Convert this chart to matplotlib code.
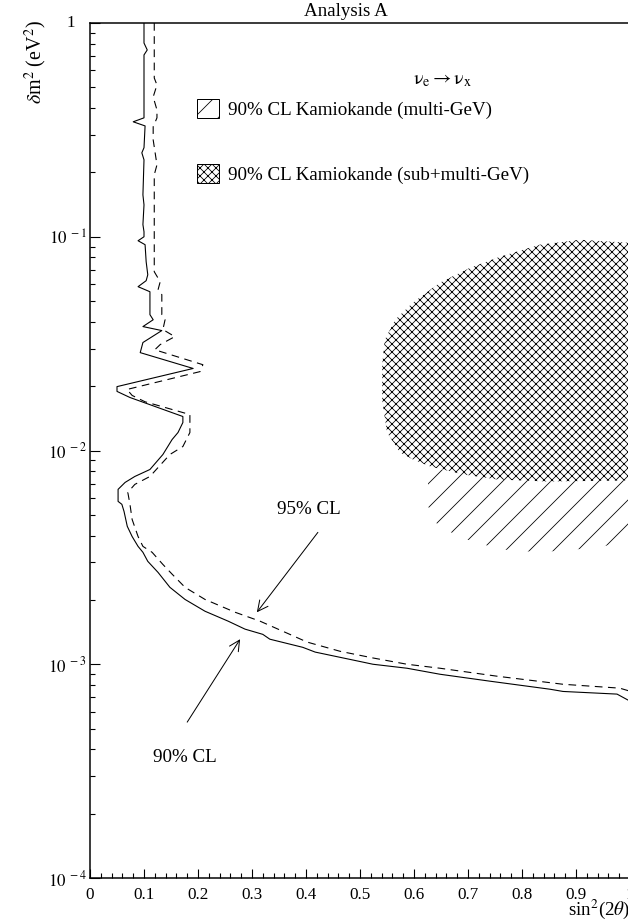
import numpy as np
import matplotlib
matplotlib.use("Agg")
import matplotlib.pyplot as plt
from matplotlib.patches import Patch
from matplotlib.ticker import FixedLocator, FuncFormatter

plt.rcParams['font.family'] = 'serif'
plt.rcParams['font.serif'] = ['Liberation Serif', 'DejaVu Serif']
plt.rcParams['mathtext.fontset'] = 'stix'
plt.rcParams['hatch.color'] = 'black'
plt.rcParams['hatch.linewidth'] = 0.8

# 90% CL contour (solid)
cl90_x = [0.100, 0.100, 0.106, 0.100, 0.100, 0.080, 0.102, 0.100, 0.096, 0.100,
          0.098, 0.100, 0.098, 0.100, 0.100, 0.089, 0.102, 0.104, 0.107, 0.104,
          0.089, 0.111, 0.111, 0.117, 0.098, 0.133, 0.098, 0.093, 0.191, 0.050,
          0.050, 0.074, 0.172, 0.172, 0.163, 0.152, 0.135, 0.111, 0.083, 0.065,
          0.052, 0.052, 0.059, 0.063, 0.069, 0.078, 0.089, 0.098, 0.107, 0.126,
          0.148, 0.176, 0.213, 0.256, 0.287, 0.320, 0.333, 0.394, 0.417, 0.500,
          0.524, 0.587, 0.648, 0.741, 0.852, 0.876, 0.976, 1.000]
cl90_y = [1.0, 0.806, 0.748, 0.709, 0.360, 0.345, 0.330, 0.261, 0.247, 0.229,
          0.157, 0.141, 0.114, 0.1055, 0.100, 0.0958, 0.0918, 0.0764, 0.0664, 0.0623,
          0.0584, 0.0553, 0.0432, 0.0409, 0.0380, 0.0364, 0.0320, 0.0287, 0.0242, 0.0199,
          0.0189, 0.0177, 0.01442, 0.01352, 0.01214, 0.01125, 0.00958, 0.00815, 0.00756, 0.00709,
          0.00658, 0.00578, 0.00560, 0.00519, 0.00442, 0.00396, 0.00356, 0.00334, 0.00303, 0.00269,
          0.00229, 0.00201, 0.00177, 0.00159, 0.00146, 0.00138, 0.00131, 0.00120, 0.00114, 0.00103,
          0.00100, 0.000958, 0.000898, 0.000833, 0.000764, 0.000746, 0.000725, 0.000672]

# 95% CL contour (dashed)
cl95_x = [0.119, 0.119, 0.124, 0.117, 0.124, 0.124, 0.117, 0.117, 0.124, 0.119,
          0.119, 0.130, 0.126, 0.133, 0.133, 0.139, 0.135, 0.157, 0.130, 0.120,
          0.209, 0.204, 0.0685, 0.078, 0.102, 0.185, 0.185, 0.172, 0.148, 0.111,
          0.083, 0.070, 0.074, 0.078, 0.089, 0.098, 0.115, 0.135, 0.152, 0.176,
          0.213, 0.269, 0.315, 0.370, 0.402, 0.463, 0.524, 0.587, 0.648, 0.754,
          0.876, 0.981, 1.000]
cl95_y = [1.0, 0.553, 0.513, 0.451, 0.392, 0.360, 0.327, 0.284, 0.217, 0.195,
          0.0686, 0.0616, 0.0565, 0.0536, 0.0432, 0.0409, 0.0368, 0.0341, 0.0313, 0.0296,
          0.0252, 0.0234, 0.0193, 0.0181, 0.0169, 0.01473, 0.01214, 0.01044, 0.00958, 0.00756,
          0.00694, 0.00637, 0.00560, 0.00476, 0.00396, 0.00356, 0.00334, 0.00293, 0.00264, 0.00229,
          0.00201, 0.00175, 0.00159, 0.00138, 0.00127, 0.00115, 0.00107, 0.00100, 0.000958, 0.000879,
          0.000806, 0.000773, 0.000748]

# Kamiokande allowed regions
multi_x = [0.626, 0.626, 0.643, 0.685, 0.759, 0.833, 0.944, 1.0, 1.0]
multi_y = [0.00815, 0.00548, 0.00451, 0.00392, 0.00345, 0.00334, 0.00352, 0.00384, 0.00815]
sub_x = [0.541, 0.546, 0.565, 0.598, 0.648, 0.704, 0.759, 0.833, 0.907, 1.0,
         1.0, 0.846, 0.754, 0.691, 0.630, 0.598, 0.574, 0.550, 0.541]
sub_y = [0.0252, 0.0330, 0.0409, 0.0492, 0.0610, 0.0716, 0.0806, 0.0918, 0.0968, 0.0937,
         0.00724, 0.00716, 0.00732, 0.00773, 0.00842, 0.00908, 0.00979, 0.01214, 0.0173]

xticks = [0, 0.1, 0.2, 0.3, 0.4, 0.5, 0.6, 0.7, 0.8, 0.9, 1.0]
yticks = [1e-4, 1e-3, 1e-2, 1e-1, 1]

fig = plt.figure(figsize=(628/72, 921/72), dpi=72)
ax = fig.add_axes([90/628, 1-878/921, 540/628, 855/921])
ax.set_yscale('log')
ax.set_xlim(0, 1)
ax.set_ylim(1e-4, 1)

# regions
ax.fill(multi_x, multi_y, facecolor='white', edgecolor='black', lw=0, hatch='/', zorder=1)
ax.fill(sub_x, sub_y, facecolor='white', edgecolor='black', lw=0, hatch='xxx', zorder=2)

# contours
ax.plot(cl90_x, cl90_y, color='black', lw=1.1, zorder=3)
ax.plot(cl95_x, cl95_y, color='black', lw=1.1, dashes=(7, 5), zorder=3)

# labels with arrows
arw = dict(arrowstyle='->', color='black', lw=1.0, mutation_scale=26, shrinkA=0, shrinkB=0)
ax.annotate('', xy=(0.309, 0.00175), xytext=(0.422, 0.00414), arrowprops=arw)
ax.annotate('', xy=(0.278, 0.00131), xytext=(0.180, 0.000536), arrowprops=arw)
ax.text(0.346, 0.0053, '95% CL', fontsize=19, ha='left', va='center')
ax.text(0.117, 0.000367, '90% CL', fontsize=19, ha='left', va='center')

ax.text(0.652, 0.933, r'$\mathrm{\nu_e \rightarrow \nu_x}$', fontsize=20, ha='center', va='center',
        transform=ax.transAxes)

handles = [Patch(facecolor='white', edgecolor='black', hatch='/', lw=1.0,
                 label='90% CL Kamiokande (multi-GeV)'),
           Patch(facecolor='white', edgecolor='black', hatch='xxx', lw=1.0,
                 label='90% CL Kamiokande (sub+multi-GeV)')]
ax.legend(handles=handles, loc='upper left', bbox_to_anchor=(0.198, 0.911),
          frameon=False, fontsize=19, handlelength=1.15, handleheight=1.15,
          handletextpad=0.5, labelspacing=2.35, borderpad=0, borderaxespad=0)

ax.text(0.474, 1.004, 'Analysis A', fontsize=19, ha='center', va='bottom',
        transform=ax.transAxes)
ax.text(1.0, -0.043, r'sin$^2$(2$\theta$)', fontsize=19, ha='right', va='baseline',
        transform=ax.transAxes)
ax.text(-0.1, 0.954, r'$\delta$m$^2$ (eV$^2$)', fontsize=20, rotation=90,
        ha='center', va='center', transform=ax.transAxes)

# ticks
ax.xaxis.set_major_locator(FixedLocator(xticks))
ax.xaxis.set_minor_locator(FixedLocator(np.arange(0, 1.001, 0.02)))
ax.xaxis.set_major_formatter(FuncFormatter(lambda v, p: '0' if v == 0 else ('1' if v == 1 else '%.1f' % v)))
ax.yaxis.set_major_locator(FixedLocator(yticks))
ax.yaxis.set_major_formatter(FuncFormatter(
    lambda v, p: '' if v == 1 else r'$10^{\,\,-%d}$' % round(-np.log10(v))))
# the "1" label sits where the "10" of the other labels sits
ax.text(-0.028, 1, '1', fontsize=17, ha='right', va='center', transform=ax.get_yaxis_transform())
ax.tick_params(which='both', direction='in', top=False, right=False, labelsize=17, width=1.1)
ax.tick_params(axis='y', which='major', length=10, pad=3)
ax.tick_params(axis='y', which='minor', length=5)
ax.tick_params(axis='x', which='major', length=9, pad=9)
ax.tick_params(axis='x', which='minor', length=5)
for s in ax.spines.values():
    s.set_linewidth(1.5)

fig.savefig('out.png', dpi=72)
